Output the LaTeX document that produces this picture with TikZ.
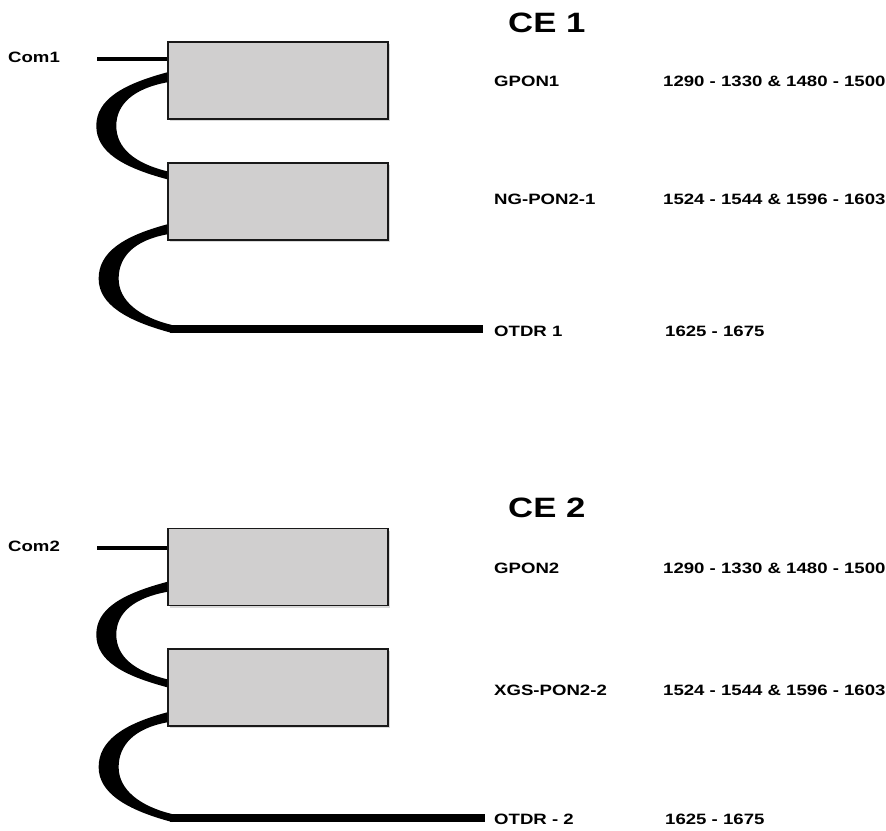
\documentclass[tikz,border=0pt]{standalone}
\usepackage{fontspec}
\setmainfont{Liberation Sans}
\usetikzlibrary{calc,shadows}
\definecolor{boxgray}{RGB}{208,207,207}
\newcommand\wide[1]{\scalebox{1.24}[1]{#1}}
\newcommand\crescentpath[2]{%
 \fill (#1) .. controls ($(#1)+(-45,12)$) and ($(#1)!0.5!(#2)+(-71,-26)$) .. ($(#1)!0.5!(#2)+(-71,0)$)
   .. controls ($(#1)!0.5!(#2)+(-71,26)$) and ($(#2)+(-45,-12)$) .. (#2)
   -- ($(#2)+(0,-8)$)
   .. controls ($(#2)+(-33,-16)$) and ($(#1)!0.5!(#2)+(-51,22)$) .. ($(#1)!0.5!(#2)+(-51,0)$)
   .. controls ($(#1)!0.5!(#2)+(-51,-22)$) and ($(#1)+(-33,16)$) .. ($(#1)+(0,10)$) -- cycle;}
\begin{document}
\begin{tikzpicture}[x=1pt,y=-1pt,
  unit/.style={draw=black!90, line width=1.4pt, fill=boxgray, minimum width=220pt, minimum height=77pt, inner sep=0pt,
     drop shadow={shadow xshift=2pt, shadow yshift=-2pt, opacity=0.3}},
  lbl/.style={anchor=west, inner sep=0pt, font=\fontsize{15}{18}\selectfont\bfseries},
  title/.style={anchor=west, inner sep=0pt, font=\fontsize{28}{32}\selectfont\bfseries},
  comline/.style={line width=3.5pt},
  fibre/.style={line width=8pt}]
\useasboundingbox (0,0) rectangle (886,830);

% ---------- CE 1 ----------
\node[title] (ce1) at (508,23) {\wide{CE 1}};
\node[unit] (b1) at (278,80.5) {};
\node[unit] (b2) at (278,201.5) {};
\node[lbl] (com1) at (8,57.5) {\wide{Com1}};
\coordinate (c1) at (97,59);
\draw[comline] (c1) -- (c1 -| b1.west);
\coordinate (t1) at ([yshift=-31pt]b1.north west);
\coordinate (e1) at ([yshift=-17pt]b2.north west);
\crescentpath{t1}{e1}
\coordinate (t2) at ([yshift=-62pt]b2.north west);
\coordinate (s1) at (170,329);
\coordinate (o1) at (483,329);
\coordinate (e2) at ($(s1)+(2,4)$);
\crescentpath{t2}{e2}
\draw[fibre] (s1) -- (o1);
\node[lbl] (gpon1) at (494,81.5) {\wide{GPON1}};
\node[lbl] (w1) at (663,81.5) {\wide{1290 - 1330 \& 1480 - 1500}};
\node[lbl] (ng1) at (494,199) {\wide{NG-PON2-1}};
\node[lbl] (w2) at (663,199) {\wide{1524 - 1544 \& 1596 - 1603}};
\node[lbl] (otdr1) at (494,331) {\wide{OTDR 1}};
\node[lbl] (w3) at (665,331) {\wide{1625 - 1675}};

% ---------- CE 2 ----------
\node[title] (ce2) at (508,508) {\wide{CE 2}};
\node[unit] (b3) at (278,567) {};
\node[unit] (b4) at (278,687.5) {};
\node[lbl] (com2) at (8,546.5) {\wide{Com2}};
\coordinate (c2) at (97,548);
\draw[comline] (c2) -- (c2 -| b3.west);
\coordinate (t3) at ([yshift=-54pt]b3.north west);
\coordinate (e3) at ([yshift=-39pt]b4.north west);
\crescentpath{t3}{e3}
\coordinate (t4) at ([yshift=-64pt]b4.north west);
\coordinate (s2) at (170,818);
\coordinate (o2) at (485,818);
\coordinate (e4) at ($(s2)+(2,4)$);
\crescentpath{t4}{e4}
\draw[fibre] (s2) -- (o2);
\node[lbl] (gpon2) at (494,568) {\wide{GPON2}};
\node[lbl] (w4) at (663,568) {\wide{1290 - 1330 \& 1480 - 1500}};
\node[lbl] (xgs2) at (494,690.5) {\wide{XGS-PON2-2}};
\node[lbl] (w5) at (663,690.5) {\wide{1524 - 1544 \& 1596 - 1603}};
\node[lbl] (otdr2) at (494,819) {\wide{OTDR - 2}};
\node[lbl] (w6) at (665,819) {\wide{1625 - 1675}};
\end{tikzpicture}
\end{document}
